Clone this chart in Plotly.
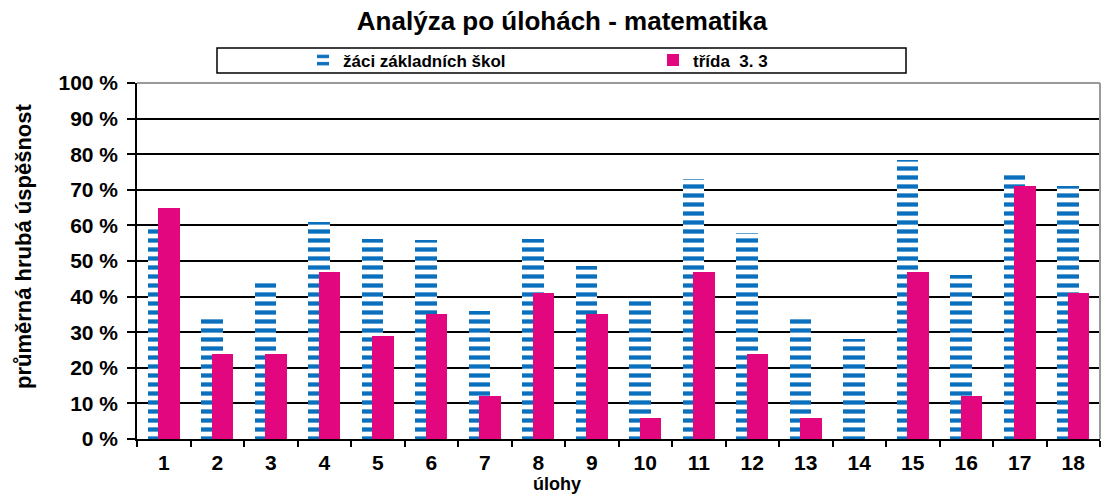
import plotly.graph_objects as go

categories = [str(i) for i in range(1, 19)]
zaci_zs = [59, 34.4, 45, 61, 56.3, 56, 36, 56.3, 48.7, 39, 73, 58, 34, 28, 78.3, 46, 74.3, 71]
trida_33 = [65, 24, 24, 47, 29, 35, 12, 41, 35, 6, 47, 24, 6, 0, 47, 12, 71, 41]
y_tick_vals = list(range(0, 101, 10))
y_tick_text = [f"{v} %" for v in y_tick_vals]

BLUE = "#0A70BE"
PINK = "#E2077E"
FONT = "Liberation Sans, Arial, sans-serif"

W, H = 1101, 494
ML, MR, MT, MB = 137, 1, 83, 55
PW, PH = W - ML - MR, H - MT - MB


def px_x(x):
    return (x - ML) / PW


def px_y(y):
    return (H - MB - y) / PH


fig = go.Figure()
fig.add_trace(go.Bar(
    x=categories, y=zaci_zs, name="žáci základních škol",
    offset=-0.3, width=0.4,
    marker=dict(color=BLUE, line=dict(width=0),
                pattern=dict(shape="-", fgcolor=BLUE, bgcolor="white",
                             size=9, solidity=0.48, fillmode="replace")),
))
fig.add_trace(go.Bar(
    x=categories, y=trida_33, name="třída  3. 3",
    offset=-0.1, width=0.4,
    marker=dict(color=PINK, line=dict(width=0)),
))

fig.update_layout(
    width=W, height=H,
    margin=dict(l=ML, r=MR, t=MT, b=MB),
    paper_bgcolor="white", plot_bgcolor="white",
    font=dict(family=FONT, color="black", size=21, weight="bold"),
    title=dict(text="Analýza po úlohách - matematika", x=562 / W, xanchor="center",
               y=1 - 21 / H, yanchor="middle",
               font=dict(size=26, family=FONT, weight="bold", color="black")),
    showlegend=True,
    legend=dict(orientation="h", x=px_x(303), xanchor="left", y=px_y(60.5), yanchor="middle",
                bgcolor="rgba(0,0,0,0)", borderwidth=0, entrywidth=305, entrywidthmode="pixels",
                font=dict(size=17, family=FONT, weight="bold", color="black"),
                traceorder="normal"),
    bargap=0, barmode="overlay",
    xaxis=dict(type="category", range=[-0.5, 17.5], tickson="boundaries", ticks="outside",
               ticklen=6, tickwidth=1.5, tickcolor="black", showline=True, linecolor="black",
               linewidth=1.5, showgrid=False, ticklabelstandoff=4, fixedrange=True),
    yaxis=dict(range=[0, 100], tickvals=y_tick_vals, ticktext=y_tick_text, ticks="outside",
               ticklen=8, tickwidth=1.5, tickcolor="black", showline=True, linecolor="black",
               linewidth=1.5, showgrid=True, gridcolor="black", gridwidth=1.5, zeroline=False,
               ticklabelstandoff=5, fixedrange=True),
    shapes=[
        dict(type="line", xref="paper", yref="paper", x0=0, x1=1, y0=1, y1=1,
             line=dict(color="#9a9a9a", width=2), layer="above"),
        dict(type="line", xref="paper", yref="paper", x0=1, x1=1, y0=0, y1=1,
             line=dict(color="#9a9a9a", width=2), layer="above"),
        dict(type="rect", xref="paper", yref="paper", x0=px_x(217), x1=px_x(906),
             y0=px_y(73), y1=px_y(48), line=dict(color="black", width=1.5)),
    ],
    annotations=[
        dict(text="úlohy", xref="paper", yref="paper", x=px_x(557), y=px_y(484),
             xanchor="center", yanchor="middle", showarrow=False,
             font=dict(size=18, family=FONT, weight="bold")),
        dict(text="průměrná hrubá úspěšnost", xref="paper", yref="paper", x=px_x(24),
             y=px_y(246), xanchor="center", yanchor="middle", textangle=-90, showarrow=False,
             font=dict(size=22, family=FONT, weight="bold")),
    ],
)

fig.write_html(
    "out.html",
    config={"displayModeBar": False},
    post_script="document.documentElement.style.margin='0';document.body.style.margin='0';"
                "document.body.style.overflow='hidden';",
)
